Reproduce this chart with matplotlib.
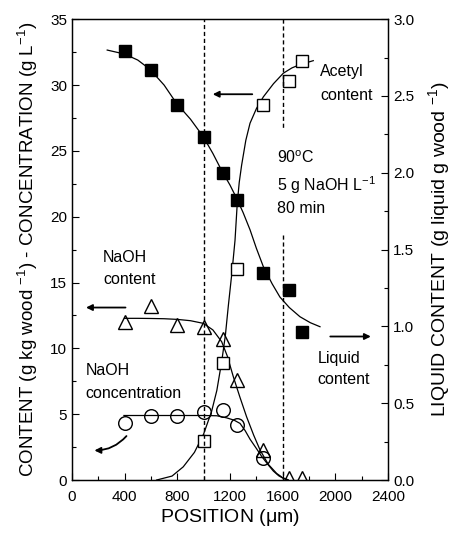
import matplotlib
matplotlib.use("Agg")
import matplotlib.pyplot as plt
from matplotlib.ticker import MultipleLocator, FormatStrFormatter

plt.rcParams['font.family'] = ['Liberation Sans', 'DejaVu Sans']
plt.rcParams['mathtext.fontset'] = 'custom'
plt.rcParams['mathtext.rm'] = 'Liberation Sans'

# measured points (position in um)
liq_x = [400, 600, 800, 1000, 1150, 1250, 1450, 1650, 1750]
liq_y = [2.79, 2.67, 2.44, 2.23, 2.00, 1.82, 1.35, 1.24, 0.965]   # g liquid / g wood

acetyl_x = [1000, 1150, 1250, 1450, 1650, 1750]
acetyl_y = [3.0, 8.9, 16.0, 28.5, 30.3, 31.8]                      # g/kg wood

naoh_x = [400, 600, 800, 1000, 1150, 1250, 1450, 1650, 1750]
naoh_y = [12.0, 13.2, 11.8, 11.6, 10.7, 7.6, 2.3, 0.15, 0.15]     # g/kg wood

conc_x = [400, 600, 800, 1000, 1150, 1250, 1450]
conc_y = [4.35, 4.9, 4.85, 5.2, 5.35, 4.2, 1.7]                   # g/L

# fitted curves
liq_fit_x = [268, 400, 500, 592, 700, 795, 900, 997, 1070, 1137, 1200, 1255, 1300,
             1352, 1400, 1453, 1520, 1579, 1650, 1731, 1810, 1883]
liq_fit_y = [2.799, 2.773, 2.734, 2.674, 2.571, 2.451, 2.349, 2.235, 2.126, 2.014, 1.920,
             1.826, 1.740, 1.629, 1.509, 1.389, 1.277, 1.191, 1.123, 1.063, 1.024, 0.998]

acetyl_fit_x = [643, 760, 845, 930, 1000, 1060, 1100, 1137, 1165, 1187, 1215, 1238, 1255,
                1270, 1288, 1320, 1352, 1400, 1453, 1530, 1605, 1670, 1731, 1832]
acetyl_fit_y = [0.0, 0.3, 1.0, 2.1, 3.5, 5.2, 6.8, 9.0, 11.0, 13.2, 15.8, 18.2, 21.0,
                22.6, 23.9, 25.8, 27.1, 28.2, 29.1, 30.1, 30.9, 31.3, 31.55, 31.85]

naoh_fit_x = [400, 500, 592, 700, 800, 900, 997, 1070, 1137, 1180, 1225, 1275, 1326,
              1380, 1428, 1490, 1554, 1600, 1640]
naoh_fit_y = [12.28, 12.28, 12.27, 12.25, 12.2, 12.1, 11.9, 11.4, 10.5, 9.4, 7.85, 6.3,
              4.8, 3.4, 2.28, 1.2, 0.5, 0.18, 0.02]

conc_fit_x = [395, 600, 800, 1000, 1100, 1175, 1230, 1276, 1315, 1352, 1400, 1440, 1490,
              1529, 1570, 1605, 1640]
conc_fit_y = [4.9, 4.9, 4.9, 4.9, 4.88, 4.72, 4.55, 4.3, 3.75, 3.1, 2.4, 1.8, 1.15,
              0.68, 0.32, 0.12, 0.02]

fig = plt.figure(figsize=(4.55, 5.33), dpi=100)
ax = fig.add_axes([0.158, 0.0994, 0.695, 0.8646])
ax2 = ax.twinx()

lw = 0.9
ms = 8.8
ax.plot(acetyl_fit_x, acetyl_fit_y, color='black', lw=lw)
ax.plot(naoh_fit_x, naoh_fit_y, color='black', lw=lw)
ax.plot(conc_fit_x, conc_fit_y, color='black', lw=lw)
ax2.plot(liq_fit_x, liq_fit_y, color='black', lw=lw)

ax2.plot(liq_x, liq_y, 's', color='black', ms=ms, mec='black')
ax.plot(acetyl_x, acetyl_y, 's', mfc='white', mec='black', ms=ms, mew=1.0)
ax.plot(naoh_x, naoh_y, '^', mfc='none', mec='black', ms=ms + 1.5, mew=1.0)
ax.plot(conc_x, conc_y, 'o', mfc='none', mec='black', ms=ms + 1, mew=1.0)

# dashed boundaries
ax.plot([1000, 1000], [0, 35], color='black', lw=1.0, ls=(0, (3, 2)))
ax.plot([1600, 1600], [35, 26.7], color='black', lw=1.0, ls=(0, (3, 2)))
ax.plot([1600, 1600], [18.6, 0], color='black', lw=1.0, ls=(0, (3, 2)))

# arrows
arw = dict(arrowstyle='-|>', color='black', lw=1.3, mutation_scale=9)
ax.annotate('', xy=(1048, 29.3), xytext=(1390, 29.3), arrowprops=arw)
ax.annotate('', xy=(86, 13.1), xytext=(428, 13.1), arrowprops=arw)
ax.annotate('', xy=(2290, 10.9), xytext=(1940, 10.9), arrowprops=arw)
ax.annotate('', xy=(150, 2.25), xytext=(428, 3.5),
            arrowprops=dict(arrowstyle='-|>', color='black', lw=1.3, mutation_scale=9,
                            connectionstyle='arc3,rad=-0.25'))

fs = 11.5
ax.text(1883, 31.0, 'Acetyl', fontsize=fs, va='center')
ax.text(1883, 29.2, 'content', fontsize=fs, va='center')
ax.text(1553, 24.5, '90$^{\\mathrm{o}}$C', fontsize=fs, va='center')
ax.text(1553, 22.4, '5 g NaOH L$^{\\mathrm{-1}}$', fontsize=fs, va='center')
ax.text(1553, 20.6, '80 min', fontsize=fs, va='center')
ax.text(238, 16.9, 'NaOH', fontsize=fs, va='center')
ax.text(238, 15.2, 'content', fontsize=fs, va='center')
ax.text(106, 8.35, 'NaOH', fontsize=fs, va='center')
ax.text(106, 6.6, 'concentration', fontsize=fs, va='center')
ax.text(1863, 9.24, 'Liquid', fontsize=fs, va='center')
ax.text(1863, 7.6, 'content', fontsize=fs, va='center')

ax.set_xlim(0, 2400)
ax.set_ylim(0, 35)
ax2.set_ylim(0, 3.0)
ax.xaxis.set_major_locator(MultipleLocator(400))
ax.xaxis.set_minor_locator(MultipleLocator(200))
ax.yaxis.set_major_locator(MultipleLocator(5))
ax.yaxis.set_minor_locator(MultipleLocator(2.5))
ax2.yaxis.set_major_locator(MultipleLocator(0.5))
ax2.yaxis.set_minor_locator(MultipleLocator(0.25))
ax2.yaxis.set_major_formatter(FormatStrFormatter('%.1f'))

for a in (ax, ax2):
    a.tick_params(which='both', direction='in', labelsize=11, width=0.8)
    a.tick_params(which='major', length=5)
    a.tick_params(which='minor', length=3)
    for s in a.spines.values():
        s.set_linewidth(0.9)
ax.tick_params(axis='x', pad=7)

ax.set_xlabel('POSITION ($\\mathrm{\\mu}$m)', fontsize=14, labelpad=2)
ax.set_ylabel('CONTENT (g kg wood $^{\\mathrm{-1}}$) - CONCENTRATION (g L$^{\\mathrm{-1}}$)',
              fontsize=13.5, labelpad=7)
ax2.set_ylabel('LIQUID CONTENT (g liquid g wood $^{\\mathrm{-1}}$)', fontsize=14, labelpad=9)

fig.savefig('out.png', dpi=100)
